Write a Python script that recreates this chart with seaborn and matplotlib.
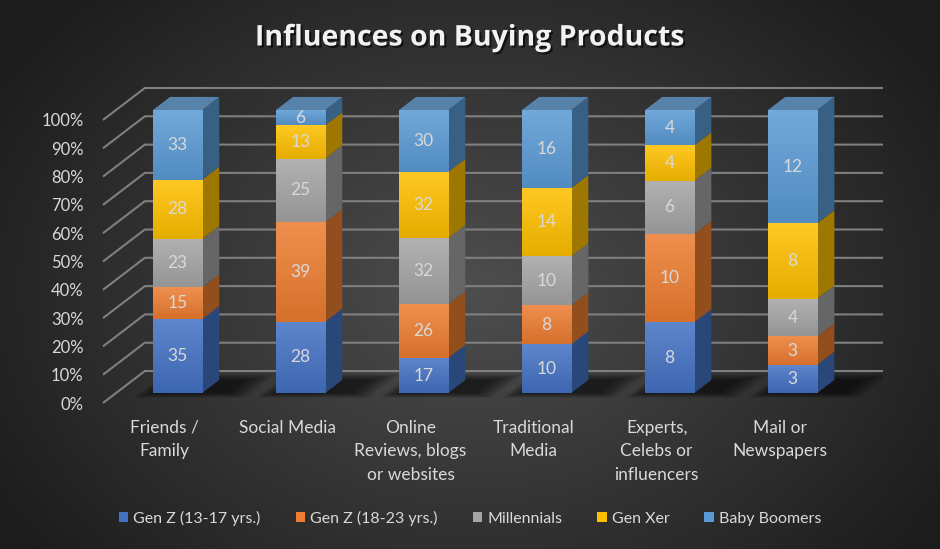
import numpy as np
import matplotlib
matplotlib.use("Agg")
import matplotlib.pyplot as plt
import matplotlib.patheffects as pe
from matplotlib.colors import to_rgb
from matplotlib.patches import Polygon, Patch
import seaborn as sns

# ---- data ----
categories = ["Friends /\nFamily", "Social Media", "Online\nReviews, blogs\nor websites",
              "Traditional\nMedia", "Experts,\nCelebs or\ninfluencers", "Mail or\nNewspapers"]
series_names = ["Gen Z (13-17 yrs.)", "Gen Z (18-23 yrs.)", "Millennials", "Gen Xer", "Baby Boomers"]
gen_z_young = [35, 28, 17, 10, 8, 3]
gen_z_old = [15, 39, 26, 8, 10, 3]
millennials = [23, 25, 32, 10, 6, 4]
gen_xer = [28, 13, 32, 14, 4, 8]
boomers = [33, 6, 30, 16, 4, 12]
series_values = [gen_z_young, gen_z_old, millennials, gen_xer, boomers]
colors = ["#4472C4", "#ED7D31", "#A5A5A5", "#FFC000", "#5B9BD5"]
y_ticks = [0, 10, 20, 30, 40, 50, 60, 70, 80, 90, 100]

TEXT = "#d9d9d9"
GRID = "#7f7f7f"

# oblique projection of the depth axis (in data units)
DX, DY = 0.34, 11.3
Z0, Z1 = 0.31, 0.72
BAR_W = 0.4


def proj(x, y, z):
    return x + DX * z, y + DY * z


def shade(c, f):
    r = np.array(to_rgb(c))
    return tuple(np.clip(r * f, 0, 1))


def mix(c, other, t):
    a, b = np.array(to_rgb(c)), np.array(to_rgb(other))
    return tuple(a * (1 - t) + b * t)


sns.set_theme(style="dark")
plt.rcParams["font.family"] = ["Lato", "DejaVu Sans"]

fig = plt.figure(figsize=(9.4, 5.49), dpi=100)

# background radial gradient
bg = fig.add_axes([0, 0, 1, 1])
yy, xx = np.mgrid[0:549, 0:940]
r = np.sqrt(((xx - 470) / 560.0) ** 2 + ((yy - 290) / 420.0) ** 2)
r = np.clip(r, 0, 1)
lo, hi = np.array(to_rgb("#4e4e4e")), np.array(to_rgb("#1c1c1c"))
img = lo[None, None, :] * (1 - r[..., None]) + hi[None, None, :] * r[..., None]
bg.imshow(img, aspect="auto", extent=[0, 1, 0, 1])
bg.set_axis_off()

W, H = 940, 549
ax = fig.add_axes([103 / W, (H - 403) / H, 780 / W, 315 / H])
ax.set_facecolor((0, 0, 0, 0))
ax.set_xlim(-0.5, 5.5 + DX)
ax.set_ylim(0, 100 + DY)
for s in ax.spines.values():
    s.set_visible(False)
ax.grid(False)

# gridlines: side wall diagonals and back wall
for v in y_ticks:
    x0, y0 = proj(-0.5, v, 0)
    x1, y1 = proj(-0.5, v, 1)
    ax.plot([x0, x1, 5.5 + DX], [y0, y1, y1], color=GRID, lw=1.5, zorder=1,
            solid_capstyle="butt", clip_on=False)

n = len(categories)
totals = np.sum(series_values, axis=0)
pct = [np.array(v) / totals * 100 for v in series_values]
xpos = np.arange(n)

# floor shadows
for i in range(n):
    left = xpos[i] - BAR_W / 2
    right = xpos[i] + BAR_W / 2
    for k in range(6):
        s = 0.035 * k
        pts = [proj(left - s * 0.6, 0, Z0 - s * 0.8), proj(right + 0.22 + s, 0, Z0 - s * 0.8),
               proj(right + 0.22 + s, 0, Z1 + s), proj(left - s * 0.6, 0, Z1 + s)]
        ax.add_patch(Polygon(pts, closed=True, facecolor="black", alpha=0.12,
                             edgecolor="none", zorder=2))

# front faces through seaborn, stacked
fx, fy = proj(0, 0, Z0)
bottom = np.zeros(n)
front_patches = []
for name, vals, col in zip(series_names, pct, colors):
    before = len(ax.patches)
    sns.barplot(x=xpos + fx, y=vals, bottom=bottom + fy, native_scale=True, width=BAR_W,
                color=col, saturation=1, linewidth=0, errorbar=None, ax=ax, zorder=4)
    front_patches.append(ax.patches[before:])
    bottom = bottom + vals

# gradient overlay on front faces, side and top faces, labels
grad = np.linspace(0, 1, 64)[:, None]
bottom = np.zeros(n)
for si, (vals, col, raw) in enumerate(zip(pct, colors, series_values)):
    for i in range(n):
        b, t = bottom[i], bottom[i] + vals[i]
        left = xpos[i] - BAR_W / 2
        right = xpos[i] + BAR_W / 2
        top_c = np.array(mix(col, "white", 0.14))
        bot_c = np.array(shade(col, 0.9))
        g = bot_c[None, None, :] * (1 - grad[..., None]) + top_c[None, None, :] * grad[..., None]
        p = front_patches[si][i]
        im = ax.imshow(g[::-1], extent=[p.get_x(), p.get_x() + p.get_width(), p.get_y(),
                                        p.get_y() + p.get_height()],
                       aspect="auto", zorder=4.5, interpolation="bilinear")
        im.set_clip_path(p)
        # side face
        side = [proj(right, b, Z0), proj(right, b, Z1), proj(right, t, Z1), proj(right, t, Z0)]
        ax.add_patch(Polygon(side, closed=True, facecolor=shade(col, 0.62),
                             edgecolor="none", zorder=4))
        # top face on the last segment
        if si == len(pct) - 1:
            top = [proj(left, t, Z0), proj(right, t, Z0), proj(right, t, Z1), proj(left, t, Z1)]
            ax.add_patch(Polygon(top, closed=True, facecolor=mix(shade(col, 0.85), "#808080", 0.2),
                                 edgecolor="none", zorder=4))
        cx, cy = proj(xpos[i], (b + t) / 2, Z0)
        ax.text(cx, cy, str(raw[i]), ha="center", va="center", color=TEXT,
                fontsize=12.5, zorder=6)
    bottom = bottom + vals

ax.set_yticks(y_ticks)
ax.set_yticklabels([f"{v}%" for v in y_ticks])
ax.set_xticks(xpos)
ax.set_xticklabels(categories, linespacing=1.6)
ax.tick_params(axis="y", length=0, pad=14, labelsize=12, labelcolor=TEXT)
ax.tick_params(axis="x", length=0, pad=12, labelsize=12.5, labelcolor=TEXT)
ax.set_xlabel("")
ax.set_ylabel("")

fig.text(0.5, 1 - 38 / H, "Influences on Buying Products", ha="center", va="center",
         fontsize=20.5, fontweight="bold", color="#f2f2f2", family=["Open Sans", "DejaVu Sans"],
         path_effects=[pe.withSimplePatchShadow(offset=(1.5, -1.5), shadow_rgbFace="black", alpha=0.6)])

handles = [Patch(facecolor=c, edgecolor="none") for c in colors]
fig.legend(handles, series_names, loc="center", bbox_to_anchor=(0.5, 1 - 518 / H),
           ncol=5, frameon=False, fontsize=11.5, labelcolor=TEXT, handlelength=0.6,
           handleheight=0.6, handletextpad=0.3, columnspacing=2.2)

fig.savefig("out.png", dpi=100)
